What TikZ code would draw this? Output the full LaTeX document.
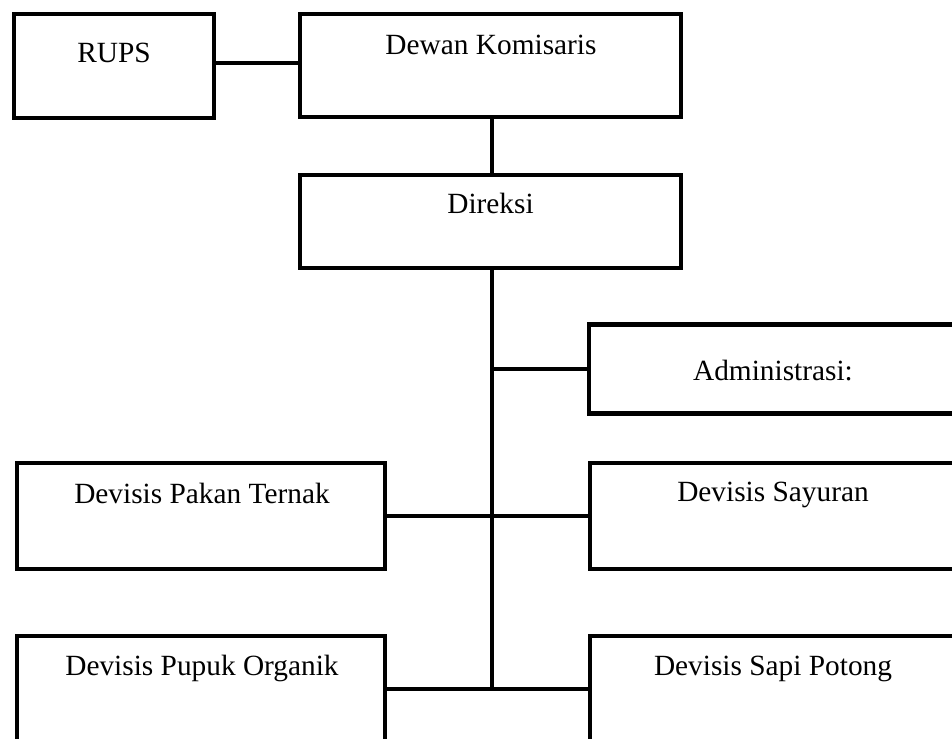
\documentclass[tikz,border=0pt]{standalone}
\usepackage{fontspec}
\setmainfont{Liberation Serif}
\begin{document}
\begin{tikzpicture}
% organisation chart, coordinates in pixels of the reference
\def\pxsz{0.02cm}
\tikzset{
  unitbox/.style={draw=black, line width=4.5*\pxsz, minimum width=#1*\pxsz, inner sep=0pt, outer sep=0pt},
  boxtext/.style={anchor=base, inner sep=0pt, font=\fontsize{16.7pt}{20pt}\selectfont},
  link/.style={draw=black, line width=3.2*\pxsz}
}
\begin{scope}[x=\pxsz, y=-\pxsz]
  \useasboundingbox (0,0) rectangle (952,738);
  \clip (0,0) rectangle (952,738);
  % Boxes
  \node[unitbox=200, minimum height=104*\pxsz] (rups)    at (114,66)     {};
  \node[unitbox=381, minimum height=103*\pxsz] (dewan)   at (490.5,65.5) {};
  \node[unitbox=381, minimum height=93*\pxsz]  (direksi) at (490.5,221.5) {};
  \node[unitbox=370, minimum height=89*\pxsz]  (admin)   at (774,369)    {};
  \node[unitbox=368, minimum height=106*\pxsz] (pakan)   at (201,516)    {};
  \node[unitbox=369, minimum height=106*\pxsz] (sayuran) at (774.5,516)  {};
  \node[unitbox=368, minimum height=106*\pxsz] (pupuk)   at (201,689)    {};
  \node[unitbox=369, minimum height=106*\pxsz] (sapi)    at (774.5,689)  {};
  % Texts
  \node[boxtext] (rups-txt)    at (114,62)   {RUPS};
  \node[boxtext] (dewan-txt)   at (491,54)   {Dewan Komisaris};
  \node[boxtext] (direksi-txt) at (490.5,213) {Direksi};
  \node[boxtext] (admin-txt)   at (773,380)  {Administrasi:};
  \node[boxtext] (pakan-txt)   at (202,503)  {Devisis Pakan Ternak};
  \node[boxtext] (sayuran-txt) at (773,501)  {Devisis Sayuran};
  \node[boxtext] (pupuk-txt)   at (202,675)  {Devisis Pupuk Organik};
  \node[boxtext] (sapi-txt)    at (773,675)  {Devisis Sapi Potong};
  % Connectors
  \coordinate (trunk-end) at (492,689);
  \coordinate (rups-link) at (114,63);
  \draw[link] (rups-link -| rups.east) -- (rups-link -| dewan.west);
  \draw[link] (dewan.south -| trunk-end) -- (direksi.north -| trunk-end);
  \draw[link] (direksi.south -| trunk-end) -- (trunk-end);
  \draw[link] (trunk-end |- admin.west) -- (admin.west);
  \draw[link] (pakan.east) -- (sayuran.west);
  \draw[link] (pupuk.east) -- (sapi.west);
\end{scope}
\end{tikzpicture}
\end{document}
